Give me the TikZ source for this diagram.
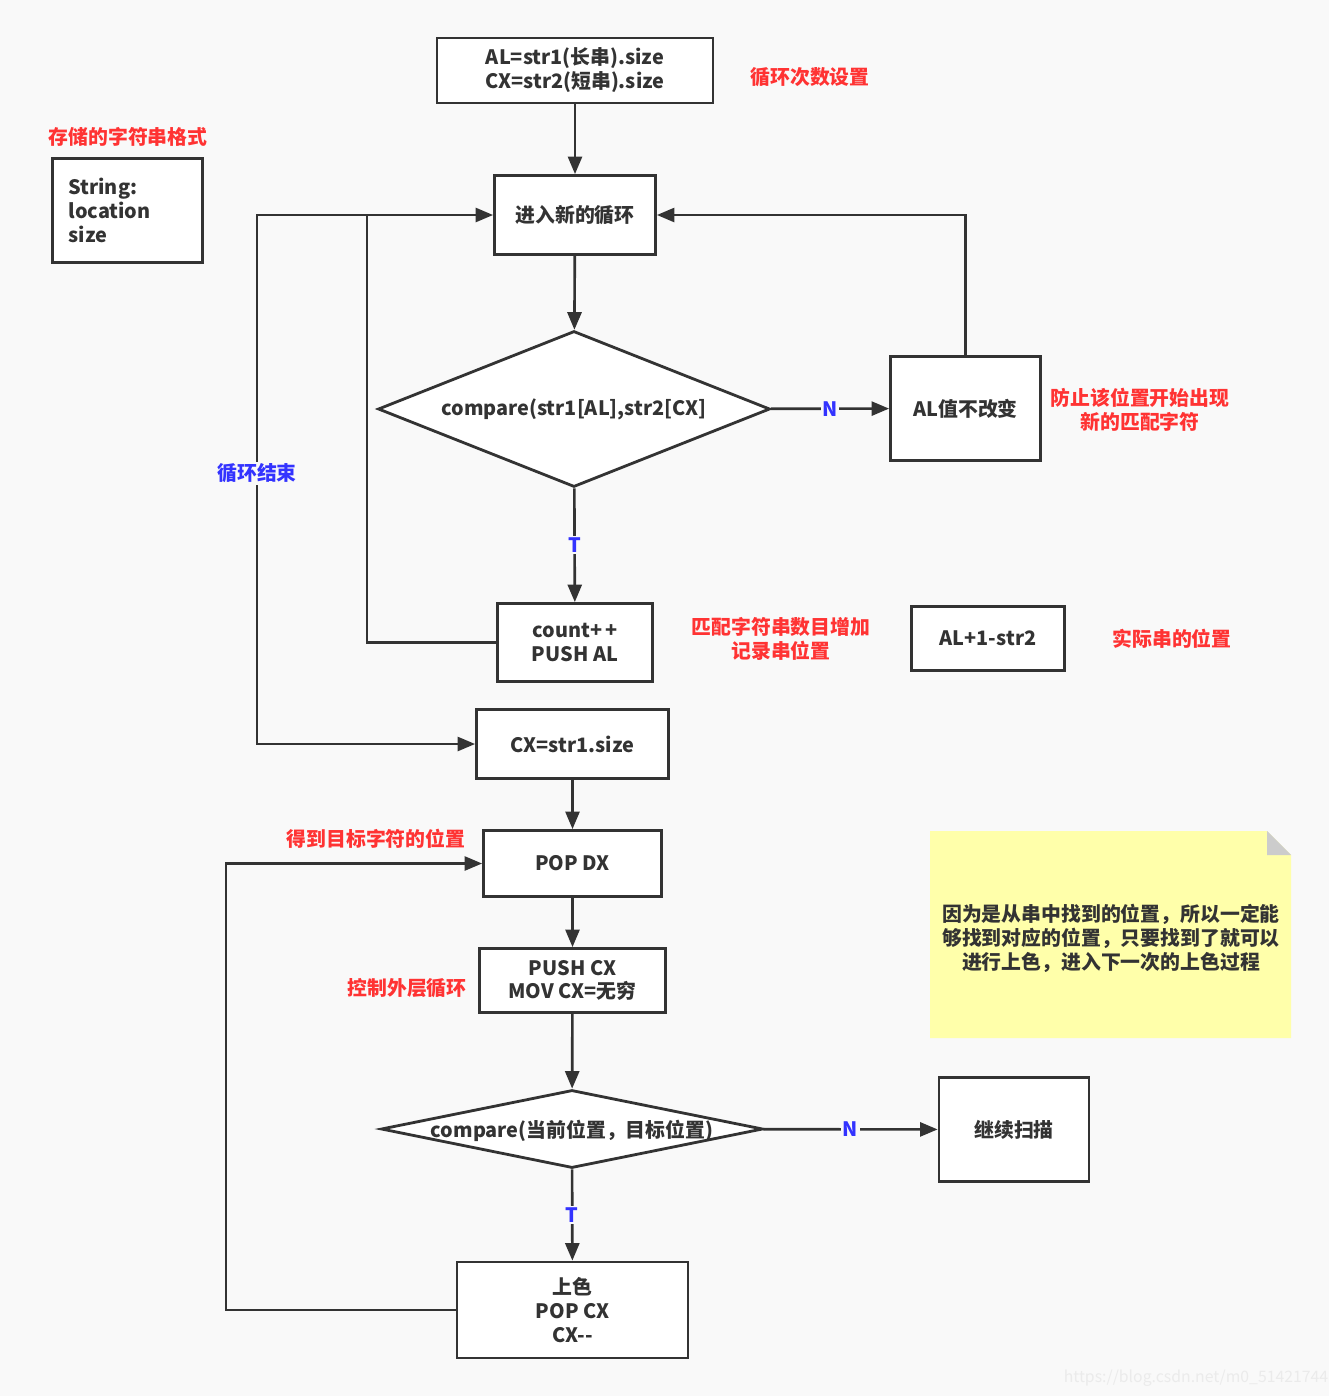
\documentclass[tikz,border=0pt]{standalone}
\usepackage{fontspec}
\setmainfont{Noto Sans CJK SC}
\usetikzlibrary{positioning,arrows.meta,shapes.geometric}
\definecolor{ink}{HTML}{333333}
\definecolor{note}{HTML}{FF3333}
\definecolor{yn}{HTML}{3333FF}
\definecolor{paper}{HTML}{F9F9F9}
\definecolor{memo}{HTML}{FFFFAA}
\definecolor{fold}{HTML}{CCCCCC}

\begin{document}
\begin{tikzpicture}[x=0.02cm,y=-0.02cm,
  font=\fontsize{11.3}{13.6}\selectfont\bfseries,
  box/.style={draw=ink,line width=1.6pt,fill=white,inner sep=0pt,align=center,text=ink},
  decide/.style={box,shape=diamond,shape aspect=2.5},
  remark/.style={text=note,align=center},
  yesno/.style={text=yn,fill=paper,inner sep=1pt},
  arr/.style={draw=ink,line width=1.5pt,-{Triangle[length=10pt,width=8pt]}}]
  \fill[paper] (0,0) rectangle (1329,1396);
  \useasboundingbox (0,0) rectangle (1329,1396);

  \node[box,minimum width=5.52cm,minimum height=1.30cm] (setup) at (575,70.5)
    {AL=str1(长串).size\\CX=str2(短串).size};
  \node[remark] (setupnote) at (810,77) {循环次数设置};
  \node[remark] (fmtnote) at (128,137) {存储的字符串格式};
  \node[box,align=left,text width=2.36cm,minimum width=3.0cm,minimum height=2.08cm] (strfmt) at (127.5,210.5)
    {String:\\location\\size};
  \node[box,minimum width=3.22cm,minimum height=1.58cm] (enter) at (575,215) {进入新的循环};
  \node[decide,minimum width=7.84cm,minimum height=3.12cm] (cmp1) at (574,409) {compare(str1[AL],str2[CX]};
  \node[box,minimum width=3.0cm,minimum height=2.08cm] (keep) at (965.5,408.5) {AL值不改变};
  \node[remark] (keepnote) at (1140,410) {防止该位置开始出现\\新的匹配字符};
  \node[box,minimum width=3.1cm,minimum height=1.56cm] (count) at (575,642.5) {count+\,+\\PUSH AL};
  \node[remark] (countnote) at (781,639) {匹配字符串数目增加\\记录串位置};
  \node[box,minimum width=3.06cm,minimum height=1.28cm] (pos) at (988,638.5) {AL+1-str2};
  \node[remark] (posnote) at (1172,639) {实际串的位置};
  \node[box,minimum width=3.84cm,minimum height=1.38cm] (reset) at (572.5,744) {CX=str1.size};
  \node[box,minimum width=3.56cm,minimum height=1.32cm] (popdx) at (572.5,863.5) {POP DX};
  \node[remark] (popnote) at (376,839) {得到目标字符的位置};
  \node[box,minimum width=3.72cm,minimum height=1.28cm] (pushcx) at (572.5,980.5) {PUSH CX\\MOV CX=无穷};
  \node[remark] (pushnote) at (407,988) {控制外层循环};
  \node[decide,minimum width=7.64cm,minimum height=1.56cm] (cmp2) at (572,1129) {};
  \node[text=ink] (cmp2text) at (572,1131) {compare(当前位置，目标位置)};
  \node[box,minimum width=3.0cm,minimum height=2.08cm] (scan) at (1014,1129.5) {继续扫描};
  \node[box,minimum width=4.62cm,minimum height=1.92cm] (paint) at (572.5,1310) {上色\\POP CX\\CX-{}-};

  \fill[memo] (930,831) -- (1267,831) -- (1291,855) -- (1291,1038) -- (930,1038) -- cycle;
  \fill[fold] (1267,831) -- (1291,855) -- (1267,855) -- cycle;
  \node[text=ink,align=center] (memotext) at (1111,938)
    {因为是从串中找到的位置，所以一定能\\够找到对应的位置，只要找到了就可以\\进行上色，进入下一次的上色过程};

  \coordinate (join) at (367,215);
  \coordinate (exit) at (257,215);
  \coordinate (back) at (226,1310);
  \draw[arr] (setup) -- (enter);
  \draw[arr] (enter) -- (cmp1);
  \draw[arr] (cmp1) -- node[yesno] {N} (keep);
  \draw[arr] (keep.north) |- (enter.east);
  \draw[arr] (cmp1) -- node[yesno] {T} (count);
  \draw[arr] (count.west) -| (join) -- (enter.west);
  \draw[arr] (join) -- (exit) |- node[yesno,pos=0.244] {循环结束} (reset.west);
  \draw[arr] (reset) -- (popdx);
  \draw[arr] (popdx) -- (pushcx);
  \draw[arr] (pushcx) -- (cmp2);
  \draw[arr] (cmp2) -- node[yesno] {N} (scan);
  \draw[arr] (cmp2) -- node[yesno] {T} (paint);
  \draw[arr] (paint.west) -- (back) |- (popdx.west);

  \node[text=black!8,font=\fontsize{9}{10}\selectfont] (mark) at (1196,1378) {https://blog.csdn.net/m0\_51421744};
\end{tikzpicture}
\end{document}
